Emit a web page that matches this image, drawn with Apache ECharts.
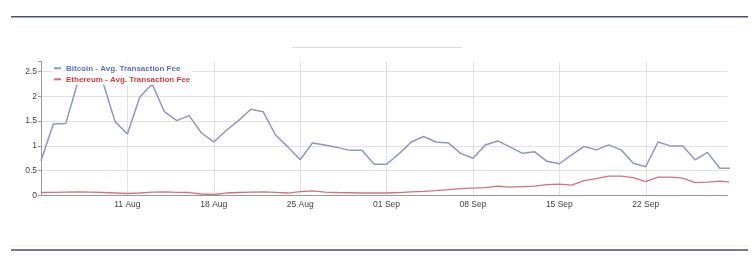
<!DOCTYPE html>
<html>
<head>
<meta charset="utf-8">
<script src="https://cdn.jsdelivr.net/npm/echarts@6/dist/echarts.min.js"></script>
<style>
html,body{margin:0;padding:0;background:#fff;}
#c{width:755px;height:268px;}
</style>
</head>
<body>
<div id="c"></div>
<script>
// ---- data ----
var dates = [
 '2018-08-04','2018-08-05','2018-08-06','2018-08-07','2018-08-08','2018-08-09','2018-08-10',
 '2018-08-11','2018-08-12','2018-08-13','2018-08-14','2018-08-15','2018-08-16','2018-08-17',
 '2018-08-18','2018-08-19','2018-08-20','2018-08-21','2018-08-22','2018-08-23','2018-08-24',
 '2018-08-25','2018-08-26','2018-08-27','2018-08-28','2018-08-29','2018-08-30','2018-08-31',
 '2018-09-01','2018-09-02','2018-09-03','2018-09-04','2018-09-05','2018-09-06','2018-09-07',
 '2018-09-08','2018-09-09','2018-09-10','2018-09-11','2018-09-12','2018-09-13','2018-09-14',
 '2018-09-15','2018-09-16','2018-09-17','2018-09-18','2018-09-19','2018-09-20','2018-09-21',
 '2018-09-22','2018-09-23','2018-09-24','2018-09-25','2018-09-26','2018-09-27','2018-09-28',
 '2018-09-29'
];
var bitcoinFee = [
 0.70,1.44,1.45,2.30,2.45,2.30,1.49,
 1.24,1.98,2.25,1.69,1.51,1.61,1.26,
 1.08,1.31,1.51,1.74,1.69,1.22,0.98,
 0.72,1.06,1.02,0.97,0.91,0.91,0.63,
 0.63,0.84,1.08,1.19,1.08,1.06,0.85,
 0.75,1.02,1.10,0.98,0.85,0.88,0.69,
 0.64,0.82,0.99,0.92,1.02,0.92,0.65,
 0.58,1.08,1.00,1.00,0.72,0.87,0.55,
 0.55
];
var ethereumFee = [
 0.060,0.065,0.070,0.075,0.070,0.060,0.050,
 0.040,0.050,0.070,0.075,0.065,0.060,0.030,
 0.020,0.050,0.060,0.070,0.075,0.065,0.050,
 0.080,0.095,0.070,0.060,0.055,0.050,0.050,
 0.050,0.060,0.075,0.085,0.100,0.120,0.140,
 0.150,0.160,0.190,0.170,0.180,0.190,0.220,
 0.230,0.210,0.300,0.340,0.390,0.390,0.360,
 0.280,0.370,0.370,0.350,0.260,0.270,0.290,
 0.270
];
var tickLabels = ['11 Aug','18 Aug','25 Aug','01 Sep','08 Sep','15 Sep','22 Sep'];
var seriesNames = ['Bitcoin - Avg. Transaction Fee','Ethereum - Avg. Transaction Fee'];

// ---- build ----
var DAY = 86400000;
var t0 = Date.parse(dates[0]);
function toPairs(vals){
  return vals.map(function(v,i){ return [(Date.parse(dates[i]) - t0)/DAY, v]; });
}
var xMax = 55.64;
var gridCol = '#e2e2e2';
var vCols = []; for (var i=0;i<8;i++) vCols.push(gridCol); vCols.push('rgba(0,0,0,0)');
var hCols = []; for (var j=0;j<6;j++) hCols.push(gridCol); hCols.push('rgba(0,0,0,0)');
var FONT = '"Liberation Sans", Arial, sans-serif';

var chart = echarts.init(document.getElementById('c'), null, {renderer:'canvas'});
chart.setOption({
  animation:false,
  backgroundColor:'#fff',
  grid:{left:41, right:27.3, top:61.6, bottom:72.5, containLabel:false},
  xAxis:{
    type:'value', min:0, max:xMax, interval:7,
    axisLine:{show:true, lineStyle:{color:'#9a9a9a', width:1}},
    axisTick:{show:false},
    splitLine:{show:true, lineStyle:{color:vCols, width:1}},
    axisLabel:{
      margin:5, color:'#444', fontSize:8.5, fontFamily:FONT,
      showMinLabel:true, showMaxLabel:true,
      formatter:function(v){
        var k = Math.round(v/7);
        if (Math.abs(v - k*7) > 1e-6 || k < 1 || k > tickLabels.length) return '';
        return tickLabels[k-1];
      }
    }
  },
  yAxis:{
    type:'value', min:0, max:2.7, interval:0.5,
    axisLine:{show:true, lineStyle:{color:'#9a9a9a', width:1}},
    axisTick:{show:true, length:3, lineStyle:{color:'#9a9a9a'}},
    splitLine:{show:true, lineStyle:{color:hCols, width:1}},
    axisLabel:{
      margin:4, color:'#444', fontSize:8.5, fontFamily:FONT,
      formatter:function(v){
        if (Math.abs(v*2 - Math.round(v*2)) > 1e-6) return '';
        return String(Math.round(v*10)/10);
      }
    }
  },
  legend:{
    orient:'vertical', left:52, top:62.8, padding:[1,2],
    backgroundColor:'#fff',
    itemWidth:7, itemHeight:2, itemGap:2, icon:'rect',
    textStyle:{fontSize:8, fontWeight:'bold', fontFamily:FONT, lineHeight:9},
    data:[
      {name:seriesNames[0], textStyle:{color:'#5b6fcf'}},
      {name:seriesNames[1], textStyle:{color:'#d93a40'}}
    ]
  },
  series:[
    {name:seriesNames[0], type:'line', data:toPairs(bitcoinFee), showSymbol:false, clip:true,
     color:'#8e97c6', lineStyle:{width:1.5, color:'#8e97c6'}, z:3},
    {name:seriesNames[1], type:'line', data:toPairs(ethereumFee), showSymbol:false, clip:true,
     color:'#d4727a', lineStyle:{width:1.3, color:'#d4727a'}, z:2}
  ],
  graphic:[
    {type:'line', shape:{x1:11, y1:16.7, x2:748, y2:16.7}, style:{stroke:'#4a4e78', lineWidth:1.5}},
    {type:'line', shape:{x1:292, y1:47.5, x2:462, y2:47.5}, style:{stroke:'#dcdcdc', lineWidth:1}},
    {type:'line', shape:{x1:11, y1:246, x2:748, y2:246}, style:{stroke:'#f3f0d8', lineWidth:1}},
    {type:'line', shape:{x1:11, y1:250, x2:748, y2:250}, style:{stroke:'#4a4e78', lineWidth:1.5}}
  ]
});
</script>
</body>
</html>
